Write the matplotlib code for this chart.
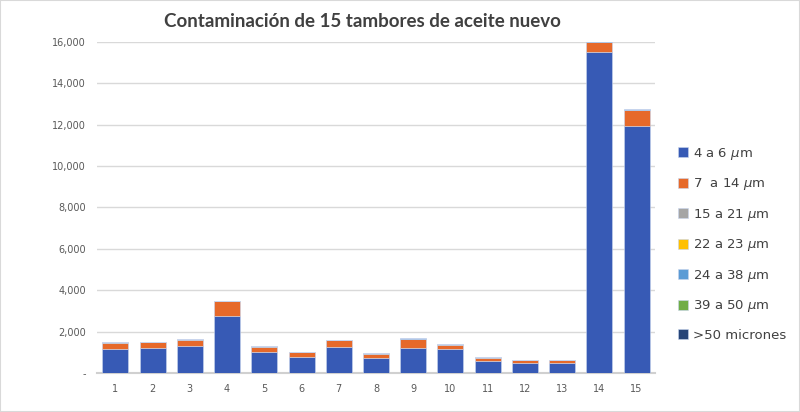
import matplotlib.pyplot as plt
import numpy as np
from matplotlib.ticker import FuncFormatter
from matplotlib.patches import Rectangle

DRUMS = [str(i) for i in range(1, 16)]
SERIES = ["4 a 6 $\\mu$m", "7  a 14 $\\mu$m", "15 a 21 $\\mu$m", "22 a 23 $\\mu$m",
          "24 a 38 $\\mu$m", "39 a 50 $\\mu$m", ">50 micrones"]
COLORS = ["#375AB5", "#E6692A", "#A5A5A5", "#FFC000", "#5B9BD5", "#70AD47", "#264478"]

um_4_6 = [1130, 1205, 1300, 2770, 1010, 770, 1250, 725, 1205, 1140, 580, 485, 500, 15500, 11950]
um_7_14 = [335, 275, 310, 690, 260, 215, 340, 210, 420, 230, 160, 115, 125, 500, 750]
um_15_21 = [10, 10, 10, 12, 8, 8, 10, 8, 12, 20, 8, 6, 6, 15, 30]
um_22_23 = [2, 2, 2, 3, 2, 2, 2, 2, 3, 3, 2, 2, 2, 4, 5]
um_24_38 = [6, 6, 6, 8, 6, 5, 6, 5, 25, 8, 5, 5, 4, 10, 20]
um_39_50 = [2, 2, 2, 3, 2, 2, 2, 2, 3, 3, 2, 2, 2, 4, 5]
um_50 = [1, 1, 1, 2, 1, 1, 1, 1, 2, 2, 1, 1, 1, 2, 5]

data = [um_4_6, um_7_14, um_15_21, um_22_23, um_24_38, um_39_50, um_50]

fig = plt.figure(figsize=(8, 4.12), dpi=100)
ax = fig.add_axes([0.121, 0.095, 0.698, 0.803])

x = np.arange(len(DRUMS))
bottom = np.zeros(len(DRUMS))
for name, vals, color in zip(SERIES, data, COLORS):
    ax.bar(x, vals, 0.7, bottom=bottom, color=color, label=name,
           edgecolor="#C9D6EE", linewidth=0.4, zorder=3)
    bottom += np.array(vals)

ax.set_xlim(-0.5, len(DRUMS) - 0.5)
ax.set_ylim(0, 16000)
ax.set_yticks(range(0, 16001, 2000))
ax.yaxis.set_major_formatter(FuncFormatter(lambda v, p: "-" if v == 0 else f"{int(v):,}"))
ax.set_xticks(x)
ax.set_xticklabels(DRUMS)
ax.tick_params(length=0, labelsize=7, colors="#595959", pad=8)
ax.grid(axis="y", color="#D9D9D9", linewidth=1, zorder=0)
for s in ["top", "right", "left"]:
    ax.spines[s].set_visible(False)
ax.spines["bottom"].set_color("#D0D0D0")
ax.spines["bottom"].set_linewidth(1.5)

fig.text(0.453, 0.947, "Contaminación de 15 tambores de aceite nuevo", ha="center", va="center",
         fontsize=13.5, fontweight="bold", color="#404040", family="Lato")

ax.legend(loc="center left", bbox_to_anchor=(1.02, 0.39), frameon=False, fontsize=9.5,
          labelcolor="#404040", handlelength=0.75, handleheight=0.75, handletextpad=0.4,
          labelspacing=1.1)

fig.patches.append(Rectangle((0, 0), 1, 1, transform=fig.transFigure, fill=False,
                             edgecolor="#D9D9D9", linewidth=1.5))

fig.savefig("out.png", dpi=100)
